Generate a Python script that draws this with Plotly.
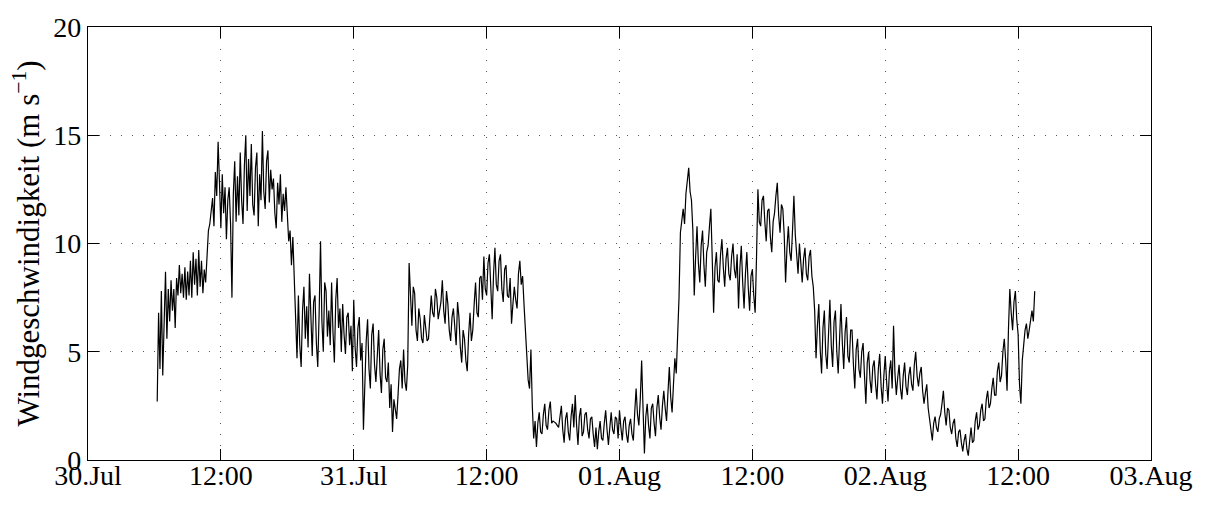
import pandas as pd
import plotly.graph_objects as go

# wind speed (m/s), readings every 7.5 minutes starting 30.Jul 06:15 (one row per hour)
wind_speed = [
    2.7, 6.8, 4.2, 7.8, 3.9, 7.2,
    8.7, 5.6, 7.9, 6.4, 8.3, 6.9, 7.9, 6.1,
    8.4, 7.6, 9.0, 7.7, 8.6, 7.5, 8.9, 7.4,
    8.7, 7.6, 9.2, 7.5, 9.6, 8.1, 9.3, 7.6,
    9.7, 8.0, 9.2, 7.7, 8.8, 8.2, 9.6, 10.6,
    10.9, 11.6, 12.1, 10.8, 13.3, 12.2, 14.7, 12.8,
    10.7, 13.2, 11.4, 12.6, 10.2, 12.0, 12.6, 10.9,
    7.5, 12.3, 13.8, 11.0, 13.1, 11.3, 14.2, 12.0,
    10.9, 13.6, 15.0, 11.5, 13.9, 12.2, 14.6, 11.8,
    11.3, 13.5, 14.2, 10.8, 13.2, 12.0, 15.2, 12.4,
    11.6, 13.8, 14.3, 11.9, 13.4, 12.5, 13.0, 11.4,
    10.7, 12.8, 11.8, 13.2, 11.0, 12.3, 11.5, 12.6,
    11.0, 10.1, 10.6, 9.0, 10.3, 8.4, 6.8, 4.7,
    7.6, 5.3, 4.3, 6.9, 8.0, 5.6, 7.1, 5.2,
    8.6, 6.2, 4.8, 7.3, 7.6, 5.4, 4.3, 6.8,
    10.1, 6.4, 5.0, 8.2, 7.8, 5.7, 6.9, 5.3,
    8.2, 5.9, 4.5, 7.4, 8.4, 6.1, 7.0, 5.0,
    7.2, 5.8, 4.9, 6.6, 6.8, 5.3, 6.2, 4.1,
    7.4, 5.2, 4.3, 6.1, 6.6, 4.6, 5.4, 1.4,
    4.0, 5.5, 6.5, 4.2, 3.3, 5.8, 6.3, 4.4,
    3.6, 5.2, 6.0, 4.0, 3.1, 5.1, 5.6, 3.8,
    3.6, 4.5, 2.4, 3.5, 1.3, 2.8, 2.2, 1.9,
    3.0, 4.2, 4.6, 3.3, 5.1, 3.6, 3.2, 4.4,
    9.1, 7.3, 6.2, 8.0, 7.7, 6.0, 5.5, 7.0,
    6.5, 5.6, 5.4, 6.7, 6.2, 5.5, 5.6, 6.4,
    7.6, 6.8, 6.6, 7.9, 7.5, 6.5, 6.9, 7.3,
    8.3, 6.9, 6.3, 7.8, 7.2, 6.0, 5.5, 6.6,
    7.0, 5.9, 5.3, 7.3, 6.6, 5.2, 4.5, 6.0,
    5.6, 4.6, 4.1, 5.8, 6.8, 5.5, 6.0, 7.2,
    8.2, 6.8, 6.6, 8.4, 8.5, 7.4, 9.4, 7.9,
    7.6, 9.1, 9.5, 8.0, 6.5, 8.6, 9.8, 8.1,
    7.8, 9.2, 9.5, 7.9, 7.3, 8.8, 9.0, 7.6,
    7.5, 8.4, 6.3, 7.2, 8.0, 7.4, 7.0, 8.6,
    9.2, 8.1, 8.5, 7.2, 6.0, 4.8, 3.7, 3.3,
    5.1, 2.5, 1.0, 1.8, 0.6, 1.7, 2.2, 1.3,
    1.2, 2.1, 2.6, 1.6, 1.4, 2.3, 2.7, 1.7,
    1.8, 1.75, 1.7, 1.6, 1.5, 2.0, 2.5, 1.4,
    0.8, 1.9, 2.2, 1.3, 0.9, 2.0, 2.6, 1.5,
    3.0, 1.6, 0.7, 2.0, 2.4, 1.1, 1.3, 2.1,
    2.2, 1.4, 1.0, 1.9, 2.0, 1.2, 0.6, 1.5,
    0.5, 1.3, 1.8, 1.0, 0.9, 1.7, 2.3, 1.4,
    0.7, 1.5, 2.2, 1.4, 1.2, 2.0, 1.9, 1.0,
    2.3, 1.5, 0.9, 1.8, 2.0, 1.2, 0.8, 1.6,
    1.9, 1.2, 0.9, 2.2, 3.3, 2.1, 1.6, 2.8,
    4.6, 2.4, 0.3, 2.0, 2.6, 1.6, 1.0, 2.4,
    2.6, 1.7, 1.1, 2.4, 3.0, 2.0, 1.4, 2.5,
    3.2, 2.4, 1.8, 3.1, 4.3, 2.9, 2.2, 3.5,
    4.7, 4.0, 5.5, 7.5, 10.5, 11.0, 11.6, 10.9,
    12.3, 12.9, 13.5, 12.4, 12.0, 10.6, 7.6, 9.4,
    10.8, 9.1, 8.2, 9.9, 10.6, 9.0, 8.0, 9.6,
    9.9, 10.8, 11.6, 9.3, 6.8, 8.9, 9.6, 8.3,
    8.2, 9.5, 10.2, 8.9, 8.0, 9.3, 9.8, 8.6,
    8.3, 9.4, 10.0, 8.8, 8.4, 9.5, 7.0, 8.9,
    9.9, 8.2, 7.0, 8.6, 9.6, 8.0, 6.9, 8.5,
    8.8, 7.6, 6.8, 9.4, 12.5, 11.0, 10.8, 12.0,
    12.2, 11.0, 10.1, 11.5, 11.6, 10.3, 9.6, 11.0,
    11.4, 12.2, 12.8, 11.3, 10.5, 11.8, 11.6, 10.4,
    8.2, 9.8, 10.8, 9.6, 9.2, 10.6, 12.2, 10.4,
    9.4, 8.6, 10.0, 8.9, 8.2, 9.3, 9.8, 8.6,
    8.3, 9.4, 9.7, 8.5, 8.0, 6.9, 4.7, 6.2,
    7.2, 5.1, 4.0, 6.1, 6.9, 4.9, 4.2, 5.8,
    7.4, 5.3, 4.3, 6.4, 6.9, 5.0, 4.0, 5.6,
    7.2, 5.4, 4.2, 5.9, 6.6, 4.8, 4.5, 6.0,
    6.0, 4.4, 3.3, 5.1, 5.6, 4.2, 3.8, 5.0,
    5.4, 3.9, 2.6, 4.5, 5.0, 3.7, 3.1, 4.3,
    4.6, 3.5, 2.8, 4.2, 4.9, 3.4, 2.6, 3.9,
    4.8, 3.6, 2.7, 4.1, 4.6, 3.3, 6.2, 4.0,
    3.0, 3.8, 4.4, 3.3, 2.8, 3.9, 4.5, 3.4,
    3.0, 3.9, 4.3, 3.5, 3.2, 4.4, 5.0, 3.9,
    3.4, 4.0, 4.3, 3.2, 2.6, 3.1, 3.5, 2.4,
    1.8, 1.2, 0.9, 1.7, 2.0, 1.5, 1.3, 1.9,
    2.1, 2.6, 3.2, 2.2, 1.6, 2.4, 2.3, 1.5,
    1.2, 1.7, 1.9, 1.0, 0.6, 1.3, 1.4, 0.8,
    0.4, 0.9, 1.2, 0.5, 0.2, 0.9, 1.5, 0.8,
    0.9, 1.8, 2.2, 1.4, 1.6, 2.3, 2.6, 1.8,
    1.9, 2.8, 3.2, 2.4, 2.6, 3.3, 3.8, 3.0,
    3.0, 4.1, 4.5, 3.6, 3.9, 5.0, 5.6, 4.6,
    3.2, 6.0, 7.9, 6.8, 6.0, 7.3, 7.8, 6.5,
    5.8, 3.5, 2.6, 4.6, 5.4, 6.0, 6.3, 5.6,
    6.0, 6.5, 6.9, 6.4, 7.8,
]
start_time = "2000-07-30 06:15"
step = "450s"

tick_times = ["2000-07-30 00:00", "2000-07-30 12:00", "2000-07-31 00:00",
              "2000-07-31 12:00", "2000-08-01 00:00", "2000-08-01 12:00",
              "2000-08-02 00:00", "2000-08-02 12:00", "2000-08-03 00:00"]
tick_labels = ["30.Jul", "12:00", "31.Jul", "12:00", "01.Aug", "12:00",
               "02.Aug", "12:00", "03.Aug"]
y_ticks = [0, 5, 10, 15, 20]

times = pd.date_range(start=start_time, periods=len(wind_speed), freq=step)

fig = go.Figure()
fig.add_trace(go.Scatter(x=times, y=wind_speed, mode="lines",
                         line=dict(color="black", width=1.2), showlegend=False))

font = dict(family="Liberation Serif", size=28, color="black")
label_font = dict(family="Liberation Serif", size=31, color="black")
axis_style = dict(showgrid=True, gridcolor="#555555", gridwidth=1, griddash="1px,10px",
                  showline=True, linecolor="black", linewidth=1.3, mirror="ticks",
                  ticks="inside", ticklen=11, tickcolor="black", tickwidth=1,
                  zeroline=False, tickfont=font)

fig.update_layout(
    width=1205, height=510,
    margin=dict(l=88, r=52, t=19, b=50),
    paper_bgcolor="white", plot_bgcolor="white",
    font=font,
    xaxis=dict(type="date", range=[tick_times[0], tick_times[-1]],
               tickmode="array", tickvals=tick_times, ticktext=tick_labels,
               ticklabelstandoff=-10, **axis_style),
    yaxis=dict(range=[0, 20], tickmode="array", tickvals=y_ticks,
               title=dict(text="Windgeschwindigkeit (m s<sup>−1</sup>)", font=label_font, standoff=4),
               **axis_style),
)
fig.write_html("out.html")
